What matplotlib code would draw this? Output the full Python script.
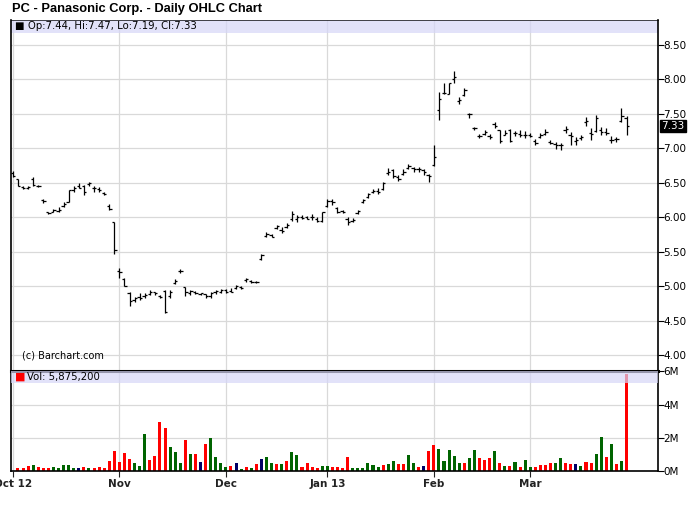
import matplotlib
matplotlib.use("Agg")
import matplotlib.pyplot as plt
import matplotlib.transforms as mtransforms

title = "PC - Panasonic Corp. - Daily OHLC Chart"

# daily OHLC, Oct 1 2012 .. Mar 28 2013 (trading days)
opens = [6.64, 6.55, 6.44, 6.42, 6.56, 6.45, 6.25, 6.07, 6.08, 6.09,
         6.16, 6.22, 6.40, 6.45, 6.45, 6.48, 6.42, 6.41, 6.35, 6.17,
         5.93, 5.22, 5.10, 4.90, 4.80, 4.84, 4.85, 4.89, 4.91, 4.85,
         4.93, 4.85, 5.05, 5.22, 4.99, 4.90, 4.91, 4.89, 4.88, 4.85,
         4.91, 4.92, 4.94, 4.93, 4.97, 4.99, 5.09, 5.08, 5.06, 5.40,
         5.73, 5.74, 5.85, 5.82, 5.86, 5.98, 5.98, 6.00, 6.00, 6.00,
         5.98, 5.94, 6.17, 6.23, 6.13, 6.09, 5.97, 5.95, 6.06, 6.22,
         6.30, 6.36, 6.38, 6.41, 6.64, 6.68, 6.58, 6.63, 6.72, 6.71,
         6.70, 6.68, 6.62, 6.76, 7.55, 7.80, 7.79, 8.00, 7.68, 7.78,
         7.50, 7.29, 7.18, 7.21, 7.18, 7.36, 7.27, 7.20, 7.27, 7.22,
         7.21, 7.20, 7.19, 7.10, 7.17, 7.21, 7.09, 7.06, 7.05, 7.27,
         7.20, 7.11, 7.15, 7.38, 7.22, 7.25, 7.26, 7.23, 7.12, 7.13,
         7.40, 7.44]
highs = [6.67, 6.55, 6.45, 6.45, 6.58, 6.47, 6.27, 6.08, 6.12, 6.15,
         6.22, 6.40, 6.45, 6.50, 6.47, 6.51, 6.45, 6.44, 6.37, 6.19,
         5.93, 5.26, 5.12, 4.92, 4.84, 4.90, 4.90, 4.94, 4.92, 4.87,
         4.94, 4.94, 5.10, 5.25, 4.99, 4.94, 4.93, 4.90, 4.89, 4.92,
         4.94, 4.96, 4.96, 4.97, 5.02, 5.00, 5.12, 5.09, 5.08, 5.47,
         5.79, 5.76, 5.89, 5.86, 5.92, 6.09, 6.03, 6.03, 6.02, 6.05,
         6.00, 6.08, 6.26, 6.26, 6.15, 6.10, 6.00, 5.99, 6.10, 6.26,
         6.35, 6.41, 6.42, 6.51, 6.71, 6.70, 6.61, 6.70, 6.77, 6.73,
         6.73, 6.70, 6.63, 7.05, 7.82, 7.95, 7.95, 8.12, 7.75, 7.88,
         7.51, 7.31, 7.21, 7.27, 7.21, 7.38, 7.27, 7.27, 7.28, 7.25,
         7.27, 7.25, 7.22, 7.14, 7.22, 7.28, 7.12, 7.09, 7.08, 7.32,
         7.24, 7.16, 7.19, 7.46, 7.30, 7.48, 7.31, 7.29, 7.18, 7.17,
         7.59, 7.47]
lows = [6.59, 6.45, 6.41, 6.41, 6.46, 6.44, 6.21, 6.05, 6.07, 6.08,
        6.15, 6.22, 6.37, 6.42, 6.32, 6.45, 6.37, 6.37, 6.32, 6.10,
        5.47, 5.12, 5.00, 4.71, 4.77, 4.80, 4.83, 4.87, 4.87, 4.83,
        4.61, 4.83, 5.03, 5.19, 4.86, 4.87, 4.88, 4.87, 4.83, 4.83,
        4.89, 4.90, 4.90, 4.92, 4.96, 4.96, 5.06, 5.05, 5.04, 5.38,
        5.71, 5.71, 5.83, 5.77, 5.84, 5.94, 5.93, 5.97, 5.98, 5.96,
        5.93, 5.93, 6.15, 6.18, 6.06, 6.06, 5.89, 5.93, 6.05, 6.21,
        6.28, 6.35, 6.34, 6.40, 6.61, 6.57, 6.53, 6.61, 6.70, 6.66,
        6.66, 6.61, 6.51, 6.74, 7.41, 7.79, 7.79, 7.95, 7.64, 7.76,
        7.44, 7.27, 7.15, 7.19, 7.14, 7.30, 7.08, 7.19, 7.09, 7.18,
        7.16, 7.15, 7.16, 7.05, 7.15, 7.19, 7.06, 6.99, 6.98, 7.22,
        7.05, 7.05, 7.12, 7.32, 7.12, 7.24, 7.19, 7.19, 7.08, 7.09,
        7.38, 7.19]
closes = [6.60, 6.46, 6.42, 6.44, 6.47, 6.45, 6.23, 6.06, 6.10, 6.10,
          6.19, 6.39, 6.43, 6.43, 6.36, 6.50, 6.42, 6.40, 6.33, 6.12,
          5.52, 5.20, 5.00, 4.78, 4.82, 4.82, 4.87, 4.92, 4.90, 4.84,
          4.62, 4.92, 5.08, 5.22, 4.92, 4.93, 4.90, 4.90, 4.85, 4.90,
          4.93, 4.95, 4.92, 4.92, 5.00, 4.97, 5.10, 5.06, 5.06, 5.45,
          5.75, 5.72, 5.87, 5.80, 5.89, 6.05, 6.00, 5.99, 5.98, 6.01,
          5.95, 6.07, 6.24, 6.22, 6.08, 6.07, 5.93, 5.96, 6.09, 6.25,
          6.33, 6.38, 6.36, 6.50, 6.66, 6.60, 6.56, 6.66, 6.74, 6.70,
          6.70, 6.66, 6.60, 6.87, 7.72, 7.80, 7.95, 8.03, 7.70, 7.85,
          7.50, 7.29, 7.18, 7.23, 7.16, 7.32, 7.10, 7.22, 7.10, 7.22,
          7.20, 7.19, 7.18, 7.08, 7.19, 7.24, 7.08, 7.05, 7.05, 7.28,
          7.18, 7.12, 7.17, 7.39, 7.21, 7.44, 7.24, 7.22, 7.12, 7.14,
          7.47, 7.33]

# volume in millions, direction: u = up, d = down, n = unchanged
volumes = [0.00, 0.18, 0.18, 0.31, 0.37, 0.24, 0.18, 0.18, 0.24, 0.18,
           0.37, 0.37, 0.18, 0.18, 0.24, 0.18, 0.18, 0.24, 0.18, 0.61,
           1.22, 0.55, 1.10, 0.73, 0.47, 0.31, 2.25, 0.67, 0.92, 2.94,
           2.60, 1.47, 1.16, 0.49, 1.84, 1.04, 1.04, 0.55, 1.65, 1.96,
           0.86, 0.49, 0.24, 0.29, 0.49, 0.12, 0.24, 0.20, 0.42, 0.72,
           0.84, 0.48, 0.42, 0.42, 0.60, 1.14, 0.96, 0.24, 0.48, 0.24,
           0.18, 0.30, 0.30, 0.24, 0.24, 0.18, 0.84, 0.18, 0.18, 0.18,
           0.48, 0.36, 0.24, 0.36, 0.42, 0.60, 0.42, 0.42, 0.96, 0.48,
           0.24, 0.30, 1.20, 1.56, 1.32, 0.60, 1.26, 0.90, 0.48, 0.48,
           0.78, 1.26, 0.78, 0.66, 0.78, 1.20, 0.48, 0.30, 0.30, 0.54,
           0.24, 0.66, 0.24, 0.24, 0.36, 0.36, 0.48, 0.48, 0.78, 0.48,
           0.42, 0.42, 0.30, 0.54, 0.48, 1.02, 2.04, 0.84, 1.62, 0.42,
           0.60, 5.8752]
vol_dir = ("nddduddduu" "uuundudddd"
           "dddduuuddd" "duuududndu"
           "uuudnududn" "uududuuddd"
           "duuddddu" "uuuuuduudd"
           "uudndduuuu" "uduudddudu"
           "duduudddduu" "ddnuddu"
           "udududdd" "uu" "d")

month_labels = ["Oct 12", "Nov", "Dec", "Jan 13", "Feb", "Mar"]
month_starts = [0, 21, 42, 62, 83, 102]

n = len(closes)
xs = list(range(n))
dir_colors = {"u": "#006400", "d": "#ff0000", "n": "#000066"}
grid_c = "#d9d9d9"
band_c = (0.84, 0.84, 0.97)

fig = plt.figure(figsize=(7.0, 5.12), dpi=100)
ax = fig.add_axes([11 / 700, 1 - 370 / 512, 647 / 700, 350 / 512])
axv = fig.add_axes([11 / 700, 1 - 471 / 512, 647 / 700, 100 / 512])

xmin, xmax = -0.375, 127.2

# ---- price panel
ax.set_xlim(xmin, xmax)
ax.set_ylim(3.782, 8.863)
ax.vlines(xs, lows, highs, color="black", lw=0.9, zorder=3)
ax.hlines(opens, [x - 0.45 for x in xs], xs, color="black", lw=0.9, zorder=3)
ax.hlines(closes, xs, [x + 0.45 for x in xs], color="black", lw=0.9, zorder=3)

yt = [4.0 + 0.5 * k for k in range(10)]
ax.set_yticks(yt)
ax.set_yticklabels(["%.2f" % v for v in yt])
ax.yaxis.tick_right()
ax.set_xticks(month_starts)
ax.set_xticklabels([])
ax.tick_params(axis="x", length=0)
ax.tick_params(axis="y", length=4, width=0.8, labelsize=7.5, pad=0, colors="black")
ax.grid(True, color=grid_c, lw=0.9, zorder=0)
ax.set_axisbelow(True)
for s in ["left", "right"]:
    ax.spines[s].set_linewidth(1.2)
ax.spines["top"].set_linewidth(0.5)
ax.spines["bottom"].set_visible(False)

blend = mtransforms.blended_transform_factory(ax.transAxes, ax.transData)
hb = 13 / 350 * (8.863 - 3.782)
ax.axhspan(8.863 - hb, 8.863, color=band_c, alpha=0.7, lw=0, zorder=1)
ax.text(0.006, 8.863 - hb / 2, "\u25a0 Op:%.2f, Hi:%.2f, Lo:%.2f, Cl:%.2f"
        % (opens[-1], highs[-1], lows[-1], closes[-1]),
        transform=blend, fontsize=7.3, va="center", ha="left", zorder=5)
ax.text(0.017, 3.99, "(c) Barchart.com", transform=blend, fontsize=7,
        va="center", ha="left")
ax.text(1.005, closes[-1], "%.2f" % closes[-1], transform=blend,
        fontsize=7.5, color="white", va="center", ha="left",
        bbox=dict(boxstyle="square,pad=0.1", fc="black", ec="black"))

# ---- volume panel
axv.set_xlim(xmin, xmax)
axv.set_ylim(0, 6.03)
axv.bar(xs, volumes, width=0.6, color=[dir_colors[c] for c in vol_dir], zorder=2)
blendv = mtransforms.blended_transform_factory(axv.transAxes, axv.transData)
hv = 12 / 100 * 6.03
axv.axhspan(6.03 - hv, 6.03, color=band_c, alpha=0.7, lw=0, zorder=3)
axv.text(0.006, 6.03 - hv / 2, "\u25a0", color="#ff0000", fontsize=8,
         transform=blendv, va="center", ha="left", zorder=5)
axv.text(0.024, 6.03 - hv / 2, "Vol: {:,}".format(int(round(volumes[-1] * 1e6, -2))),
         transform=blendv, fontsize=7.3, va="center", ha="left", zorder=5)
axv.set_yticks([0, 2, 4, 6])
axv.set_yticklabels(["0M", "2M", "4M", "6M"])
axv.yaxis.tick_right()
axv.set_xticks(month_starts)
axv.set_xticklabels(month_labels, fontweight="bold")
axv.tick_params(axis="x", length=4, width=0.8, labelsize=7.5, pad=2, colors="#222222")
axv.tick_params(axis="y", length=4, width=0.8, labelsize=7.5, pad=0)
axv.grid(True, color=grid_c, lw=0.9, zorder=0)
axv.set_axisbelow(True)
axv.spines["top"].set_linewidth(2.2)
for s in ["left", "right", "bottom"]:
    axv.spines[s].set_linewidth(1.2)

fig.text(12 / 700, 1 - 9 / 512, title, fontsize=9.3, fontweight="bold",
         family="Liberation Sans", va="center", ha="left")

fig.savefig("out.png", dpi=100)
